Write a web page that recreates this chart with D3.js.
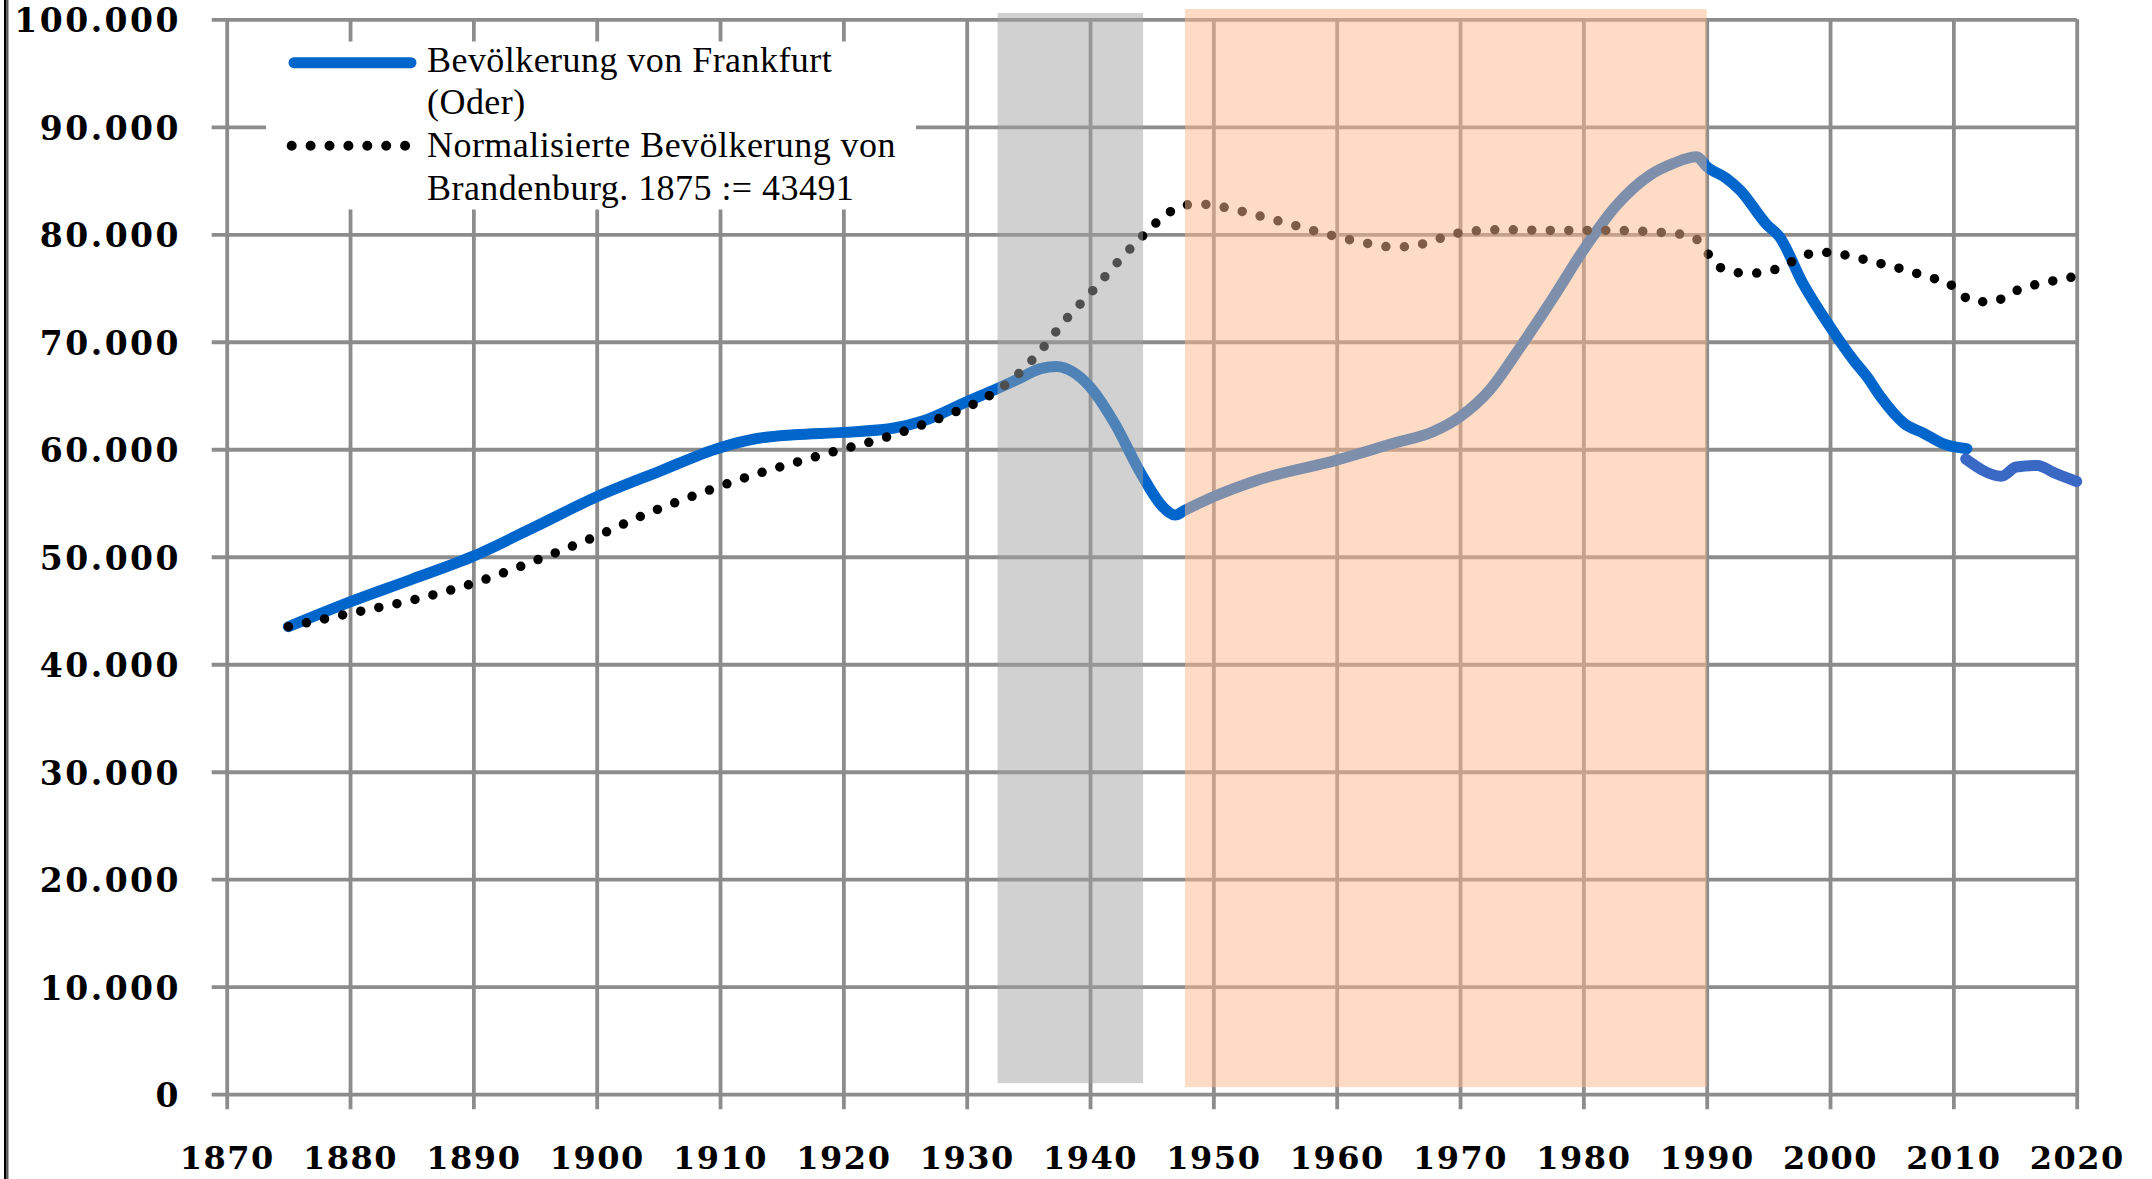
<!DOCTYPE html>
<html>
<head>
<meta charset="utf-8">
<script src="https://cdn.jsdelivr.net/npm/d3@7"></script>
<style>
  html, body { margin: 0; padding: 0; background: #ffffff; }
  svg { display: block; }
</style>
</head>
<body>
<svg id="chart" width="2152" height="1179"></svg>
<script>
// ---------- data ----------
const xTicks = [1870, 1880, 1890, 1900, 1910, 1920, 1930, 1940, 1950, 1960, 1970, 1980, 1990, 2000, 2010, 2020];
const xTickLabels = ["1870", "1880", "1890", "1900", "1910", "1920", "1930", "1940", "1950", "1960", "1970", "1980", "1990", "2000", "2010", "2020"];
const yTicks = [0, 10000, 20000, 30000, 40000, 50000, 60000, 70000, 80000, 90000, 100000];
const yTickLabels = ["0", "10.000", "20.000", "30.000", "40.000", "50.000", "60.000", "70.000", "80.000", "90.000", "100.000"];

// Bevölkerung von Frankfurt (Oder) – until 2011
const frankfurtYears  = [1875, 1880, 1885, 1890, 1895, 1900, 1905, 1910, 1913, 1916, 1920, 1924, 1926.5, 1930, 1932.5, 1934, 1936, 1937.3, 1938.6, 1940, 1942, 1944.2, 1945.9, 1946.9, 1947.7, 1950, 1953.5, 1960, 1964.6, 1967.8, 1970, 1972.4, 1974.9, 1977.6, 1980, 1982.7, 1985.4, 1987.3, 1989.2, 1990, 1991.6, 1992.7, 1994.9, 1995.9, 1997.8, 2000, 2001.9, 2003, 2004.1, 2006, 2007.6, 2009.2, 2011.1];
const frankfurtValues = [43491, 45800, 47900, 50060, 52790, 55580, 57900, 60150, 61000, 61350, 61570, 61950, 62650, 64420, 65660, 66440, 67500, 67700, 67200, 65810, 62400, 57600, 54650, 53880, 54340, 55580, 57100, 58990, 60550, 61630, 63030, 65510, 69530, 74190, 78530, 82720, 85510, 86600, 87210, 86300, 85200, 84110, 80860, 79770, 75430, 71400, 68300, 66740, 64880, 62410, 61480, 60500, 60050];
// Bevölkerung von Frankfurt (Oder) – after Zensus 2011
const frankfurt2011Years  = [2011, 2013.9, 2015.1, 2016.8, 2018.2, 2020];
const frankfurt2011Values = [59100, 57500, 58350, 58500, 57800, 57000];

// Normalisierte Bevölkerung von Brandenburg, 1875 := 43491
const brandenburgYears  = [1875, 1880, 1885.4, 1890, 1895.7, 1900, 1904, 1908.4, 1912.7, 1917.1, 1920, 1923, 1925.9, 1928.7, 1931.5, 1934, 1936.1, 1938, 1940.1, 1942.1, 1944.2, 1945.3, 1946.5, 1947.9, 1949.4, 1950.9, 1953.9, 1956.8, 1959.8, 1962.8, 1964.3, 1965.8, 1967.3, 1968.8, 1970.3, 1973.3, 1977.8, 1982.4, 1985.4, 1988.5, 1989.7, 1990.5, 1991.8, 1993.3, 1994.8, 1996.3, 1997.6, 1999.1, 2000.6, 2003.6, 2006.5, 2008, 2009.5, 2010.5, 2011.8, 2013.3, 2014.7, 2016.1, 2017.6, 2020];
const brandenburgValues = [43491, 44730, 46060, 47530, 49940, 51920, 53970, 55900, 57600, 59090, 60020, 60950, 62070, 63300, 64760, 66810, 69320, 72020, 74600, 77230, 79770, 81010, 82090, 82740, 82780, 82500, 81660, 80760, 79830, 79090, 78840, 78840, 79210, 79770, 80200, 80420, 80360, 80360, 80240, 79890, 78950, 77480, 76610, 76360, 76480, 77100, 77850, 78340, 78190, 77410, 76550, 75990, 75550, 74530, 73720, 73750, 74560, 75150, 75550, 76100];

// shaded periods (years)
const naziEra = [1932.5, 1944.3];
const gdrEra  = [1947.7, 1990];

const legendLabels = [
  ["Bevölkerung von Frankfurt", "(Oder)"],
  ["Normalisierte Bevölkerung von", "Brandenburg. 1875 := 43491"]
];

// ---------- chart ----------
const svg = d3.select("#chart");
svg.append("rect").attr("width", 2152).attr("height", 1179).attr("fill", "#ffffff");

const x = d3.scaleLinear().domain([1870, 2020]).range([226.7, 2076.7]);
const y = d3.scaleLinear().domain([0, 100000]).range([1094.2, 19.3]);

const gridColor = "#8c8c8c";
const gridW = 3.8;
const tickFont = "'DejaVu Serif', serif";

// left border (double line)
svg.append("rect").attr("x", 4).attr("y", 0).attr("width", 2.6).attr("height", 1179).attr("fill", "#000");
svg.append("rect").attr("x", 7.2).attr("y", 0).attr("width", 1.2).attr("height", 1179).attr("fill", "#333");

// y axis with horizontal gridlines
const ext = 15;
const yAxis = d3.axisLeft(y)
  .tickValues(yTicks)
  .tickSizeInner(-(x(2020) - x(1870) + ext))
  .tickSizeOuter(0)
  .tickPadding(30.7)
  .tickFormat((d, i) => yTickLabels[i]);
const gy = svg.append("g").attr("transform", `translate(${x(1870) - ext},0)`).call(yAxis);
gy.select(".domain").remove();
gy.selectAll(".tick line").attr("stroke", gridColor).attr("stroke-width", gridW);
gy.selectAll(".tick text")
  .attr("font-family", tickFont).attr("font-weight", "bold").attr("font-size", 33)
  .attr("letter-spacing", 2.5).attr("fill", "#000")
  .attr("dy", null).attr("y", 12.5).attr("dominant-baseline", "alphabetic");

// x axis with vertical gridlines
const xAxis = d3.axisBottom(x)
  .tickValues(xTicks)
  .tickSizeInner(-(y(0) - y(100000) + ext))
  .tickSizeOuter(0)
  .tickFormat((d, i) => xTickLabels[i]);
const gx = svg.append("g").attr("transform", `translate(0,${y(0) + ext})`).call(xAxis);
gx.select(".domain").remove();
gx.selectAll(".tick line").attr("stroke", gridColor).attr("stroke-width", gridW);
gx.selectAll(".tick text")
  .attr("font-family", tickFont).attr("font-weight", "bold").attr("font-size", 32)
  .attr("letter-spacing", 1.5).attr("fill", "#000")
  .attr("dy", null).attr("y", 1169 - (y(0) + ext)).attr("dominant-baseline", "alphabetic");

// lines
const line = d3.line().x(d => x(d[0])).y(d => y(d[1])).curve(d3.curveMonotoneX);
const frankfurt = frankfurtYears.map((yr, i) => [yr, frankfurtValues[i]]);
const frankfurt2011 = frankfurt2011Years.map((yr, i) => [yr, frankfurt2011Values[i]]);
const brandenburg = brandenburgYears.map((yr, i) => [yr, brandenburgValues[i]]);

svg.append("path").datum(frankfurt).attr("d", line)
  .attr("fill", "none").attr("stroke", "#0066cc").attr("stroke-width", 11)
  .attr("stroke-linecap", "round").attr("stroke-linejoin", "round");
svg.append("path").datum(frankfurt2011).attr("d", line)
  .attr("fill", "none").attr("stroke", "#3a68c5").attr("stroke-width", 11)
  .attr("stroke-linecap", "round").attr("stroke-linejoin", "round");
svg.append("path").datum(brandenburg).attr("d", line)
  .attr("fill", "none").attr("stroke", "#000").attr("stroke-width", 9.5)
  .attr("stroke-linecap", "round").attr("stroke-dasharray", "0 18.5");

// shaded periods (drawn on top, semi transparent)
svg.append("rect")
  .attr("x", x(naziEra[0])).attr("width", x(naziEra[1]) - x(naziEra[0]))
  .attr("y", y(100000) - 6.3).attr("height", (y(0) - 11) - (y(100000) - 6.3))
  .attr("fill", "rgb(162,162,162)").attr("fill-opacity", 0.49);
svg.append("rect")
  .attr("x", x(gdrEra[0])).attr("width", x(gdrEra[1]) - x(gdrEra[0]))
  .attr("y", y(100000) - 10.3).attr("height", (y(0) - 7) - (y(100000) - 10.3))
  .attr("fill", "rgb(251,183,139)").attr("fill-opacity", 0.5);

// legend
const lg = svg.append("g");
lg.append("rect").attr("x", 266).attr("y", 41.5).attr("width", 650).attr("height", 168).attr("fill", "#ffffff");
lg.append("line").attr("x1", 294).attr("x2", 411).attr("y1", 62.7).attr("y2", 62.7)
  .attr("stroke", "#0066cc").attr("stroke-width", 11).attr("stroke-linecap", "round");
lg.append("line").attr("x1", 291.7).attr("x2", 406).attr("y1", 145.7).attr("y2", 145.7)
  .attr("stroke", "#000").attr("stroke-width", 10).attr("stroke-linecap", "round").attr("stroke-dasharray", "0 18.9");
const baselines = [71.7, 114.3, 157, 199.5];
legendLabels.flat().forEach((t, i) => {
  lg.append("text").attr("x", 427).attr("y", baselines[i])
    .attr("font-family", "'Liberation Serif', serif").attr("font-size", 36)
    .attr("letter-spacing", 0.45)
    .attr("fill", "#000").text(t);
});
</script>
</body>
</html>
